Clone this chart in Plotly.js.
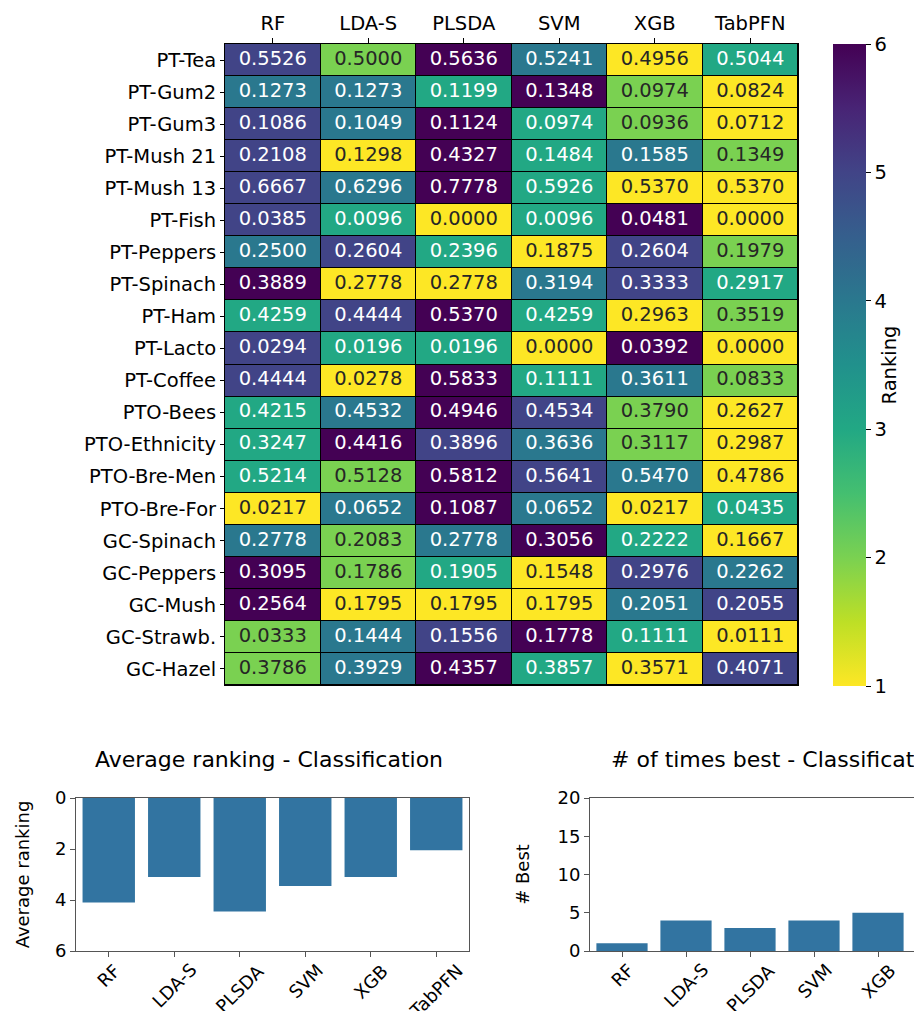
<!DOCTYPE html>
<html><head><meta charset="utf-8">
<script src="https://cdn.plot.ly/plotly-3.0.1.min.js"></script>
<style>html,body{margin:0;padding:0;overflow:hidden;background:#fff}#chart{width:1000px;height:1011px}</style>
</head><body><div id="chart"></div>
<script>
const methods = ["RF","LDA-S","PLSDA","SVM","XGB","TabPFN"];
const datasets = ["PT-Tea","PT-Gum2","PT-Gum3","PT-Mush 21","PT-Mush 13","PT-Fish","PT-Peppers","PT-Spinach","PT-Ham","PT-Lacto","PT-Coffee","PTO-Bees","PTO-Ethnicity","PTO-Bre-Men","PTO-Bre-For","GC-Spinach","GC-Peppers","GC-Mush","GC-Strawb.","GC-Hazel"];
const rfValues     = [0.5526,0.1273,0.1086,0.2108,0.6667,0.0385,0.2500,0.3889,0.4259,0.0294,0.4444,0.4215,0.3247,0.5214,0.0217,0.2778,0.3095,0.2564,0.0333,0.3786];
const ldaValues    = [0.5000,0.1273,0.1049,0.1298,0.6296,0.0096,0.2604,0.2778,0.4444,0.0196,0.0278,0.4532,0.4416,0.5128,0.0652,0.2083,0.1786,0.1795,0.1444,0.3929];
const plsdaValues  = [0.5636,0.1199,0.1124,0.4327,0.7778,0.0000,0.2396,0.2778,0.5370,0.0196,0.5833,0.4946,0.3896,0.5812,0.1087,0.2778,0.1905,0.1795,0.1556,0.4357];
const svmValues    = [0.5241,0.1348,0.0974,0.1484,0.5926,0.0096,0.1875,0.3194,0.4259,0.0000,0.1111,0.4534,0.3636,0.5641,0.0652,0.3056,0.1548,0.1795,0.1778,0.3857];
const xgbValues    = [0.4956,0.0974,0.0936,0.1585,0.5370,0.0481,0.2604,0.3333,0.2963,0.0392,0.3611,0.3790,0.3117,0.5470,0.0217,0.2222,0.2976,0.2051,0.1111,0.3571];
const tabpfnValues = [0.5044,0.0824,0.0712,0.1349,0.5370,0.0000,0.1979,0.2917,0.3519,0.0000,0.0833,0.2627,0.2987,0.4786,0.0435,0.1667,0.2262,0.2055,0.0111,0.4071];
const rankTicks = [1,2,3,4,5,6];
const avgTicks = [0,2,4,6];
const bestTicks = [0,5,10,15,20];

const columns = [rfValues, ldaValues, plsdaValues, svmValues, xgbValues, tabpfnValues];

// ranking per dataset (lower value = better, ties share the lowest rank)
const ranks = datasets.map((d, i) => {
  const row = columns.map(c => c[i]);
  return row.map(v => 1 + row.filter(w => w < v).length);
});
const avgRank = methods.map((m, j) => ranks.reduce((s, r) => s + r[j], 0) / datasets.length);
const bestCount = methods.map((m, j) => ranks.filter(r => r[j] === 1).length);

const W = 1000, H = 1011;
const fx = p => p / W;
const fy = p => (H - p) / H;
const FONT = "DejaVu Sans, sans-serif";
const BAR = "#3274a1";
const SPINE = "#555555";

const viridisR = [
  [0.0, "#fde725"], [0.1, "#bddf26"], [0.2, "#7ad151"], [0.3, "#44bf70"],
  [0.4, "#22a884"], [0.5, "#21918c"], [0.6, "#2a788e"], [0.7, "#355f8d"],
  [0.8, "#414487"], [0.9, "#482475"], [1.0, "#440154"]
];

// text trace for heatmap cells
const tx = [], ty = [], tt = [], tc = [];
datasets.forEach((d, i) => {
  methods.forEach((m, j) => {
    tx.push(m); ty.push(d);
    tt.push(columns[j][i].toFixed(4));
    tc.push(ranks[i][j] <= 2 ? "#262626" : "#ffffff");
  });
});

const traces = [
  {
    type: "heatmap", x: methods, y: datasets, z: ranks,
    xaxis: "x", yaxis: "y",
    colorscale: viridisR, zmin: 1, zmax: 6, xgap: 1, ygap: 1,
    hoverinfo: "skip",
    colorbar: {
      x: fx(833), xanchor: "left", xpad: 0, ypad: 0,
      y: fy(365), yanchor: "middle", len: 642 / H, lenmode: "fraction",
      thickness: 33, thicknessmode: "pixels", outlinewidth: 0,
      tickvals: rankTicks, ticktext: rankTicks.map(String),
      ticks: "outside", ticklen: 5, tickcolor: "#000",
      tickfont: {family: FONT, size: 19.5, color: "#000"},
      title: {text: "Ranking", side: "right", font: {family: FONT, size: 19.5, color: "#000"}}
    }
  },
  {
    type: "scatter", mode: "text", x: tx, y: ty, text: tt,
    xaxis: "x", yaxis: "y", hoverinfo: "skip", showlegend: false, cliponaxis: false,
    textposition: "middle center",
    textfont: {family: FONT, size: 19.5, color: tc}
  },
  {
    type: "bar", x: methods, y: avgRank, xaxis: "x2", yaxis: "y2",
    marker: {color: BAR}, hoverinfo: "skip", showlegend: false
  },
  {
    type: "bar", x: methods, y: bestCount, xaxis: "x3", yaxis: "y3",
    marker: {color: BAR}, hoverinfo: "skip", showlegend: false
  }
];

const barX = (l, r) => ({
  domain: [fx(l), fx(r)], type: "category", range: [-0.5, 5.5],
  showticklabels: false, ticks: "outside", ticklen: 5, tickcolor: SPINE,
  showline: true, linecolor: SPINE, linewidth: 1, mirror: true,
  showgrid: false, zeroline: false, fixedrange: true
});

const annotations = [];
const addTickLabels = (xref) => {
  methods.forEach(m => annotations.push({
    xref: xref, yref: "paper", x: m, y: fy(957), xanchor: "center", yanchor: "top",
    text: m, textangle: -45, showarrow: false,
    font: {family: FONT, size: 18, color: "#000"}
  }));
};
addTickLabels("x2");
addTickLabels("x3");
annotations.push({
  xref: "paper", yref: "paper", x: fx(269), y: fy(759), xanchor: "center", yanchor: "middle",
  text: "Average ranking - Classification", showarrow: false,
  font: {family: FONT, size: 22, color: "#000"}
});
annotations.push({
  xref: "paper", yref: "paper", x: fx(779), y: fy(759), xanchor: "center", yanchor: "middle",
  text: "# of times best - Classification", showarrow: false,
  font: {family: FONT, size: 22, color: "#000"}
});

const layout = {
  width: W, height: H, margin: {l: 0, r: 0, t: 0, b: 0},
  paper_bgcolor: "#fff", plot_bgcolor: "#fff", showlegend: false,
  font: {family: FONT, color: "#000"},
  xaxis: {
    domain: [fx(225), fx(798)], anchor: "y", side: "top", type: "category",
    range: [-0.5, methods.length - 0.5],
    tickfont: {family: FONT, size: 19.5}, ticks: "outside", ticklen: 5, tickcolor: "#000",
    showline: true, linecolor: "#000", linewidth: 1, mirror: true,
    showgrid: false, zeroline: false, fixedrange: true
  },
  yaxis: {
    domain: [fy(685), fy(44)], anchor: "x", type: "category",
    range: [datasets.length - 0.5, -0.5],
    tickfont: {family: FONT, size: 19.5}, ticks: "outside", ticklen: 4, tickcolor: "#000",
    showline: true, linecolor: "#000", linewidth: 1, mirror: true,
    showgrid: false, zeroline: false, fixedrange: true
  },
  xaxis2: Object.assign(barX(76, 469), {anchor: "y2"}),
  yaxis2: {
    domain: [fy(951), fy(798)], anchor: "x2", range: [6, 0],
    tickvals: avgTicks, ticks: "outside", ticklen: 5, tickcolor: SPINE,
    tickfont: {family: FONT, size: 18},
    showline: true, linecolor: SPINE, linewidth: 1, mirror: true,
    showgrid: false, zeroline: false, fixedrange: true,
    title: {text: "Average ranking", standoff: 20, font: {family: FONT, size: 18}}
  },
  xaxis3: Object.assign(barX(590, 974), {anchor: "y3"}),
  yaxis3: {
    domain: [fy(951), fy(798)], anchor: "x3", range: [0, 20],
    tickvals: bestTicks, ticks: "outside", ticklen: 5, tickcolor: SPINE,
    tickfont: {family: FONT, size: 18},
    showline: true, linecolor: SPINE, linewidth: 1, mirror: true,
    showgrid: false, zeroline: false, fixedrange: true,
    title: {text: "# Best", standoff: 23, font: {family: FONT, size: 18}}
  },
  bargap: 0.2,
  shapes: [{
    type: "rect", xref: "x domain", yref: "y domain", x0: 0, x1: 1, y0: 0, y1: 1,
    fillcolor: "#000", line: {width: 0}, layer: "below"
  }],
  annotations: annotations
};

Plotly.newPlot("chart", traces, layout, {displayModeBar: false, staticPlot: true});
</script>
</body></html>
